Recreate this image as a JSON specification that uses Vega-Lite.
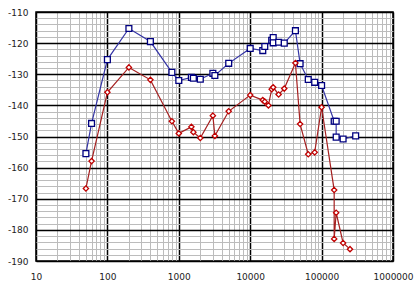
{
  "$schema": "https://vega.github.io/schema/vega-lite/v6.json",
  "width": 357,
  "height": 249,
  "autosize": {"type": "none"},
  "padding": {"left": 36, "top": 12, "right": 27, "bottom": 27},
  "background": "white",
  "config": {
    "view": {"stroke": "black", "strokeWidth": 1.5},
    "axis": {"labelFont": "DejaVu Sans", "labelFontSize": 9, "labelColor": "#222", "ticks": false, "domain": false, "title": null}
  },
  "data": {"values": [
    {"s":"B","i":1,"x":50,"y":-155.5},{"s":"B","i":2,"x":60,"y":-145.8},{"s":"B","i":3,"x":100,"y":-125.3},{"s":"B","i":4,"x":200,"y":-115.3},{"s":"B","i":5,"x":400,"y":-119.5},{"s":"B","i":6,"x":800,"y":-129.4},{"s":"B","i":7,"x":1000,"y":-132},{"s":"B","i":8,"x":1500,"y":-131},{"s":"B","i":9,"x":1600,"y":-131.3},{"s":"B","i":10,"x":2000,"y":-131.6},{"s":"B","i":11,"x":3000,"y":-129.7},{"s":"B","i":12,"x":3200,"y":-130.4},{"s":"B","i":13,"x":5000,"y":-126.5},{"s":"B","i":14,"x":10000,"y":-121.7},{"s":"B","i":15,"x":15000,"y":-122.4},{"s":"B","i":16,"x":16000,"y":-121.1},{"s":"B","i":17,"x":20000,"y":-119.1},{"s":"B","i":18,"x":21000,"y":-118.2},{"s":"B","i":19,"x":21000,"y":-119.9},{"s":"B","i":20,"x":25000,"y":-119.7},{"s":"B","i":21,"x":30000,"y":-120},{"s":"B","i":22,"x":43000,"y":-116},{"s":"B","i":23,"x":50000,"y":-126.6},{"s":"B","i":24,"x":65000,"y":-131.7},{"s":"B","i":25,"x":80000,"y":-132.6},{"s":"B","i":26,"x":100000,"y":-133.6},{"s":"B","i":27,"x":150000,"y":-145.1},{"s":"B","i":28,"x":160000,"y":-145.1},{"s":"B","i":29,"x":160000,"y":-150.2},{"s":"B","i":30,"x":200000,"y":-150.8},{"s":"B","i":31,"x":300000,"y":-149.8},
    {"s":"R","i":1,"x":50,"y":-166.7},{"s":"R","i":2,"x":60,"y":-157.9},{"s":"R","i":3,"x":100,"y":-135.8},{"s":"R","i":4,"x":200,"y":-127.8},{"s":"R","i":5,"x":400,"y":-131.8},{"s":"R","i":6,"x":800,"y":-145.1},{"s":"R","i":7,"x":1000,"y":-149},{"s":"R","i":8,"x":1500,"y":-146.9},{"s":"R","i":9,"x":1600,"y":-148.6},{"s":"R","i":10,"x":2000,"y":-150.5},{"s":"R","i":11,"x":3000,"y":-143.3},{"s":"R","i":12,"x":3200,"y":-149.8},{"s":"R","i":13,"x":5000,"y":-141.9},{"s":"R","i":14,"x":10000,"y":-136.7},{"s":"R","i":15,"x":15000,"y":-138.3},{"s":"R","i":16,"x":16000,"y":-138.8},{"s":"R","i":17,"x":18000,"y":-140},{"s":"R","i":18,"x":20000,"y":-134.8},{"s":"R","i":19,"x":21000,"y":-134.2},{"s":"R","i":20,"x":25000,"y":-136.5},{"s":"R","i":21,"x":30000,"y":-134.6},{"s":"R","i":22,"x":43000,"y":-126.4},{"s":"R","i":23,"x":50000,"y":-146},{"s":"R","i":24,"x":65000,"y":-155.7},{"s":"R","i":25,"x":80000,"y":-155.1},{"s":"R","i":26,"x":100000,"y":-140.6},{"s":"R","i":27,"x":150000,"y":-167.2},{"s":"R","i":28,"x":150000,"y":-182.9},{"s":"R","i":29,"x":160000,"y":-174.5},{"s":"R","i":30,"x":200000,"y":-184.2},{"s":"R","i":31,"x":250000,"y":-186.2}
  ]},
  "encoding": {
    "x": {
      "field": "x", "type": "quantitative",
      "scale": {"type": "log", "domain": [10, 1000000], "nice": false},
      "axis": {
        "orient": "bottom",
        "values": [10,20,30,40,50,60,70,80,90,100,200,300,400,500,600,700,800,900,1000,2000,3000,4000,5000,6000,7000,8000,9000,10000,20000,30000,40000,50000,60000,70000,80000,90000,100000,200000,300000,400000,500000,600000,700000,800000,900000,1000000],
        "labelExpr": "indexof([10,100,1000,10000,100000,1000000], datum.value) >= 0 ? '' + datum.value : ''",
        "labelOverlap": false,
        "labelPadding": 11,
        "labelFlush": false,
        "grid": true,
        "gridColor": {"condition": {"test": "indexof([10,100,1000,10000,100000,1000000], datum.value) >= 0", "value": "black"}, "value": "#bcbcbc"},
        "gridWidth": {"condition": {"test": "indexof([10,100,1000,10000,100000,1000000], datum.value) >= 0", "value": 1.5}, "value": 1}
      }
    },
    "y": {
      "field": "y", "type": "quantitative",
      "scale": {"domain": [-190, -110], "nice": false, "zero": false},
      "axis": {
        "values": [-190,-188,-186,-184,-182,-180,-178,-176,-174,-172,-170,-168,-166,-164,-162,-160,-158,-156,-154,-152,-150,-148,-146,-144,-142,-140,-138,-136,-134,-132,-130,-128,-126,-124,-122,-120,-118,-116,-114,-112,-110],
        "labelExpr": "datum.value % 10 == 0 ? '' + datum.value : ''",
        "labelOverlap": false,
        "labelPadding": 8,
        "labelFlush": false,
        "grid": true,
        "gridColor": {"condition": {"test": "datum.value % 10 == 0", "value": "black"}, "value": "#bcbcbc"},
        "gridWidth": {"condition": {"test": "datum.value % 10 == 0", "value": 1.5}, "value": 1}
      }
    }
  },
  "layer": [
    {
      "mark": {"type": "line", "strokeWidth": 1.2},
      "encoding": {
        "color": {"field": "s", "type": "nominal", "scale": {"domain": ["B", "R"], "range": ["#3535a5", "#a52020"]}, "legend": null},
        "order": {"field": "i", "type": "quantitative"}
      }
    },
    {
      "mark": {"type": "point", "filled": false, "fill": "white", "fillOpacity": 1, "strokeWidth": 1.3, "opacity": 1},
      "encoding": {
        "stroke": {"field": "s", "type": "nominal", "scale": {"domain": ["B", "R"], "range": ["#000080", "#c00000"]}, "legend": null},
        "shape": {"field": "s", "type": "nominal", "scale": {"domain": ["B", "R"], "range": ["square", "diamond"]}, "legend": null},
        "size": {"field": "s", "type": "nominal", "scale": {"domain": ["B", "R"], "range": [34, 28]}, "legend": null}
      }
    }
  ]
}
